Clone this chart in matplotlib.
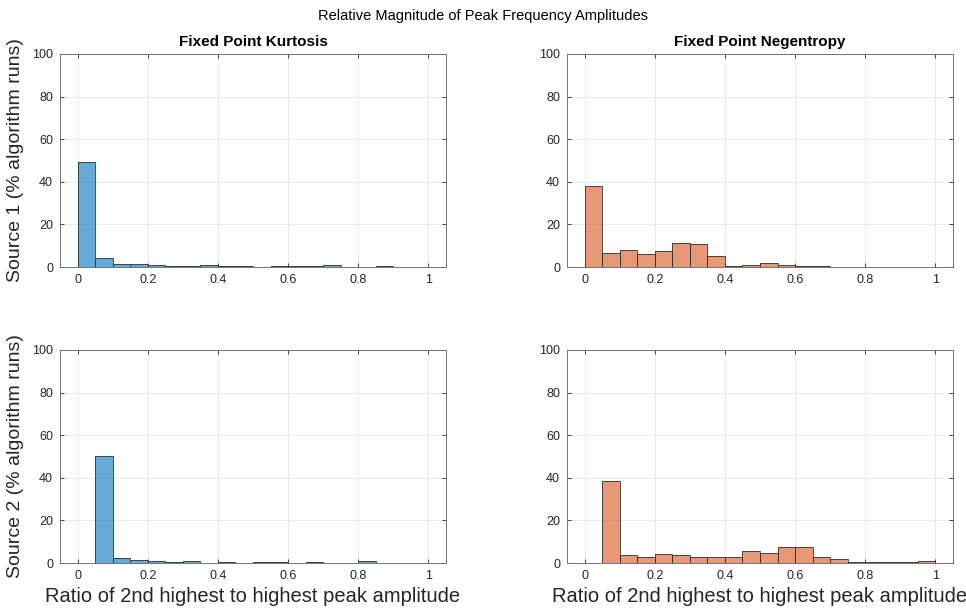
#!/usr/bin/env python3

import numpy as np
import matplotlib.pyplot as plt


##### data (percent of algorithm runs per 0.05-wide bin) #####
BIN_EDGES = np.linspace(0.0, 1.0, 21)

kurt_src1 = [49.5, 4.4, 1.6, 1.3, 1.1, 0.5, 0.5, 0.9, 0.6, 0.6,
             0.2, 0.6, 0.6, 0.6, 0.9, 0.2, 0.2, 0.6, 0.2, 0.2]
negent_src1 = [38.1, 6.7, 8.1, 5.9, 7.3, 11.4, 10.9, 5.3, 0.6, 1.1,
               2.0, 0.8, 0.6, 0.6, 0.0, 0.2, 0.0, 0.2, 0.2, 0.0]
kurt_src2 = [0.0, 50.2, 2.2, 1.6, 0.8, 0.3, 0.8, 0.2, 0.6, 0.2,
             0.3, 0.3, 0.2, 0.3, 0.2, 0.0, 0.8, 0.2, 0.2, 0.2]
negent_src2 = [0.0, 38.4, 3.9, 2.7, 4.4, 3.9, 3.0, 2.8, 2.8, 5.7,
               4.9, 7.7, 7.4, 2.7, 1.7, 0.3, 0.3, 0.3, 0.3, 0.8]

col_titles = ["Fixed Point Kurtosis", "Fixed Point Negentropy"]
row_labels = ["Source 1 (% algorithm runs)", "Source 2 (% algorithm runs)"]
x_label = "Ratio of 2nd highest to highest peak amplitude"
sup_title = "Relative Magnitude of Peak Frequency Amplitudes"

x_ticks = [0, 0.2, 0.4, 0.6, 0.8, 1]
x_ticklabels = ["0", "0.2", "0.4", "0.6", "0.8", "1"]
y_ticks = [0, 20, 40, 60, 80, 100]

BLUE = (0.0, 0.447, 0.741)
ORANGE = (0.85, 0.325, 0.098)

plt.rcParams["font.family"] = ["Liberation Sans", "DejaVu Sans"]

W, H = 966, 612
fig = plt.figure(figsize=(W / 100, H / 100), dpi=100)


def make_axes(left, top, right, bottom):
    return fig.add_axes([left / W, 1 - bottom / H, (right - left) / W, (bottom - top) / H])


panels = [
    (make_axes(60, 54, 446, 267), kurt_src1, BLUE, 0, 0),
    (make_axes(567, 54, 953, 267), negent_src1, ORANGE, 0, 1),
    (make_axes(60, 350, 446, 563), kurt_src2, BLUE, 1, 0),
    (make_axes(567, 350, 953, 563), negent_src2, ORANGE, 1, 1),
]

for ax, vals, color, row, col in panels:
    ax.bar(
        BIN_EDGES[:-1],
        vals,
        width=0.05,
        align="edge",
        color=color,
        alpha=0.6,
        linewidth=0,
        zorder=3,
    )
    # bar outlines
    ax.bar(
        BIN_EDGES[:-1],
        vals,
        width=0.05,
        align="edge",
        fill=False,
        edgecolor=(0.2, 0.2, 0.2),
        linewidth=0.6,
        zorder=4,
    )

    ax.set_xlim(-0.05, 1.05)
    ax.set_ylim(0, 100)
    ax.set_xticks(x_ticks)
    ax.set_xticklabels(x_ticklabels)
    ax.set_yticks(y_ticks)

    ax.grid(True, color="0.9", linewidth=0.6, zorder=0)
    ax.set_axisbelow(True)
    ax.tick_params(direction="in", length=3, width=0.6, labelsize=9,
                   top=True, right=True, colors="0.15", pad=5)
    for sp in ax.spines.values():
        sp.set_color("0.45")
        sp.set_linewidth(0.7)

    if row == 0:
        ax.set_title(col_titles[col], fontsize=11, fontweight="bold", pad=6)
    if col == 0:
        ax.set_ylabel(row_labels[row], fontsize=14, color="0.15", labelpad=6)
    if row == 1:
        ax.set_xlabel(x_label, fontsize=14.5, color="0.15", labelpad=4)

fig.suptitle(sup_title, fontsize=10.5, y=0.985)

fig.savefig("out.png", dpi=100)
plt.close(fig)
